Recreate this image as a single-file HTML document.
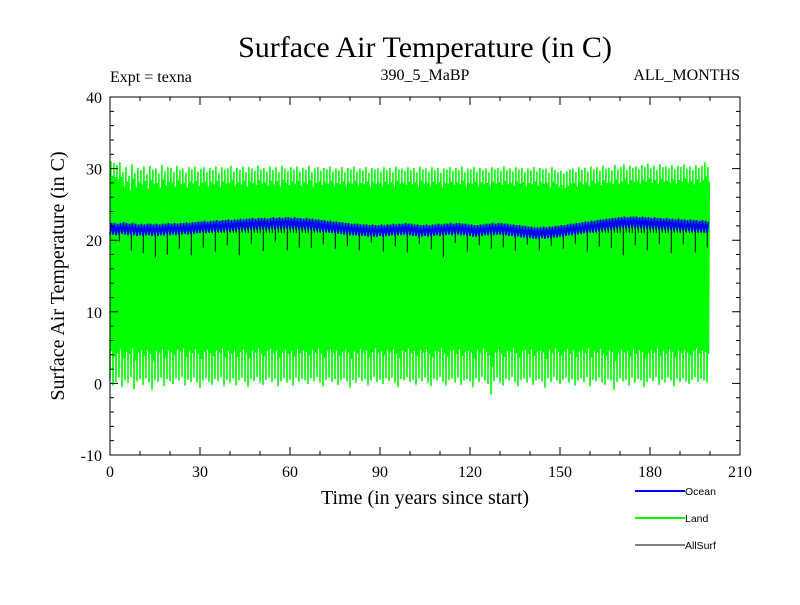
<!DOCTYPE html>
<html><head><meta charset="utf-8"><style>
body{margin:0;background:#fff}
svg text{font-family:"Liberation Serif",serif}
svg text.sans{font-family:"Liberation Sans",sans-serif}
</style></head><body>
<svg id="c" width="800" height="600" xmlns="http://www.w3.org/2000/svg">
<text x="425" y="57" font-size="30" text-anchor="middle">Surface Air Temperature (in C)</text>
<text x="110" y="82" font-size="16">Expt = texna</text>
<text x="425" y="80" font-size="16" text-anchor="middle">390_5_MaBP</text>
<text x="740" y="80" font-size="16" text-anchor="end">ALL_MONTHS</text>
<g id="plot"></g>
<g id="axes"></g>
<text x="425" y="504" font-size="20" text-anchor="middle">Time (in years since start)</text>
<text transform="translate(64,276) rotate(-90)" font-size="20" text-anchor="middle">Surface Air Temperature (in C)</text>
<g>
<g><line x1="635" y1="491" x2="685" y2="491" stroke="#0000ff" stroke-width="2"/><text class="sans" x="685" y="495" font-size="10.5">Ocean</text></g>
<g><line x1="635" y1="518" x2="685" y2="518" stroke="#00ff00" stroke-width="2"/><text class="sans" x="685" y="522" font-size="10.5">Land</text></g>
<g><line x1="635" y1="545" x2="685" y2="545" stroke="#000" stroke-width="1"/><text class="sans" x="685" y="549" font-size="10.5">AllSurf</text></g>
</g>
</svg>
<script>
const xTicks=[0,30,60,90,120,150,180,210];
const yTicks=[-10,0,10,20,30,40];
const landMax=[31,30.8,30.5,30.9,29.5,30.2,29,30.6,29.4,30.1,29.8,30.3,29.2,30.4,29.9,30,29.3,30.5,29.7,30.2,
30.1,29.5,30.4,29.8,30,29.4,30.2,29.9,30.3,29.6,30,30.2,29.5,30.1,29.8,30.3,29.4,30.2,29.9,30,
30.4,29.6,30.1,29.8,30.3,29.5,30.2,30,29.7,30.4,29.9,30.1,29.6,30.3,29.8,30.2,29.5,30.4,30,29.7,
30.2,29.9,30.3,29.6,30.1,29.8,30.4,29.5,30,30.2,29.7,30.1,29.9,30.3,29.6,30,29.8,30.2,29.5,30.1,
29.9,30.3,29.6,30,29.8,30.2,29.4,30.1,29.9,30,29.6,30.2,29.8,30.1,29.5,30.3,29.9,30,29.7,30.2,
29.8,30.1,29.5,30.3,29.9,30,29.6,30.2,29.8,30.1,29.4,30,29.9,30.2,29.7,30.1,29.8,30.3,29.5,30,
29.9,30.2,29.6,30.1,29.8,30,29.5,30.2,29.9,30.1,29.7,30.3,29.8,30,29.6,30.2,29.9,30.1,29.5,30,
29.8,30.2,29.6,30.1,29.9,30,29.4,30.2,29.8,29.5,29.7,29.3,29.6,29.9,30,29.5,30.2,29.8,30.1,29.6,
30.3,29.9,30.2,29.7,30.4,30,30.1,29.8,30.5,29.9,30.2,30.6,29.8,30.4,30.1,30.3,29.9,30.5,30.2,30.7,
30,30.4,29.8,30.6,30.2,30.3,30,30.5,29.9,30.4,30.2,30.6,30,30.3,29.8,30.5,30.1,30.4,30.9,30.2];
const landMin=[0.5,-0.3,0.2,0.8,-0.5,0.4,0.1,0.9,-0.8,0.3,0.6,-0.2,0.7,0.1,-0.9,0.5,0.2,0.8,-0.4,0.6,
0.3,-0.1,0.7,0.4,0.9,-0.3,0.5,0.2,0.8,0.1,-0.6,0.4,0.7,0.2,-0.2,0.6,0.3,0.9,-0.4,0.5,
0.1,0.7,-0.3,0.4,0.8,0.2,-0.5,0.6,0.3,0.9,0.1,-0.2,0.5,0.8,0.2,0.6,-0.4,0.3,0.7,0.1,
0.5,-0.3,0.8,0.2,0.6,0.4,-0.1,0.7,0.3,0.9,0.1,-0.4,0.5,0.8,0.2,0.6,-0.2,0.4,0.7,0.3,
-0.6,0.5,0.1,0.8,0.3,0.6,-0.3,0.4,0.9,0.2,0.5,-0.1,0.7,0.3,0.8,0.1,-0.5,0.6,0.4,0.9,
0.2,0.5,-0.2,0.7,0.3,0.8,0.1,-0.4,0.6,0.4,0.9,0.2,-0.3,0.5,0.7,0.1,0.8,-0.2,0.4,0.6,
0.3,-0.5,0.7,0.2,0.9,0.4,-0.1,-1.6,0.3,0.8,0.1,-0.3,0.6,0.4,0.9,0.2,-0.4,0.5,0.7,0.1,
0.8,-0.2,0.4,0.6,0.3,-0.6,0.7,0.2,0.9,0.4,-0.1,0.5,0.8,0.1,0.6,-0.3,0.4,0.7,0.2,0.9,
-0.4,0.5,0.3,0.8,0.1,-0.2,0.6,0.4,-0.9,0.2,0.7,0.3,0.5,-0.3,0.8,0.1,0.6,0.4,-0.5,0.2,
0.7,0.3,0.9,-0.2,0.5,0.1,0.8,0.4,-0.4,0.6,0.2,0.7,0.3,-0.1,0.5,0.9,0.2,0.6,0.4,0.1];
const oceanMid=[21.6,21.6,21.5,21.6,21.7,21.6,21.5,21.6,21.5,21.4,21.5,21.4,21.5,21.5,21.4,21.5,21.4,21.5,21.5,21.6,
21.5,21.6,21.5,21.6,21.6,21.7,21.6,21.7,21.7,21.8,21.8,21.9,21.8,21.9,21.9,22,21.9,22,22,22.1,
22,22.1,22.1,22.2,22.1,22.2,22.2,22.3,22.2,22.3,22.3,22.3,22.2,22.3,22.4,22.3,22.4,22.3,22.4,22.4,
22.3,22.4,22.3,22.3,22.2,22.3,22.2,22.2,22.1,22.1,22,22,21.9,21.9,21.8,21.8,21.7,21.7,21.6,21.6,
21.5,21.5,21.5,21.4,21.4,21.4,21.3,21.4,21.3,21.3,21.4,21.3,21.4,21.4,21.5,21.4,21.5,21.5,21.6,21.5,
21.5,21.4,21.4,21.3,21.3,21.4,21.3,21.4,21.4,21.5,21.4,21.5,21.5,21.6,21.5,21.6,21.6,21.5,21.5,21.4,
21.4,21.3,21.3,21.4,21.4,21.5,21.5,21.6,21.5,21.6,21.6,21.5,21.5,21.4,21.4,21.3,21.3,21.2,21.2,21.1,
21.1,21,21,21,21.1,21,21.1,21.1,21.2,21.2,21.3,21.3,21.4,21.5,21.5,21.6,21.6,21.7,21.8,21.8,
21.9,21.9,22,22.1,22.1,22.2,22.2,22.3,22.3,22.4,22.4,22.5,22.4,22.5,22.5,22.5,22.4,22.5,22.4,22.4,
22.3,22.4,22.3,22.3,22.2,22.3,22.2,22.2,22.1,22.2,22.1,22.1,22,22.1,22,22,21.9,22,21.9,21.8];
const allMin=[21,21,21,19.8,21,21,21,18.5,21,21,21,18.2,21,21,21,17.6,21,21,21,18,
21,21,21,18.8,21,21,21,17.9,21,21,21,19,21,21,21,18.4,21,21,21,19.3,21,21,21,17.9,21,21,21,19.5,21,21,
21,18.5,21,21,21,19.8,21,21,21,18.6,21,21,21,19,21,21,21,18.9,21,21,21,19.4,21,21,21,18.8,21,21,21,19.2,
21,21,21,18.6,21,21,21,19.6,21,21,21,18.4,21,21,21,19.1,21,21,21,18.3,21,21,21,19.5,21,21,21,18.7,21,21,
21,17.6,21,21,21,19.6,21,21,21,18.4,21,21,21,19.3,21,21,21,18.8,21,21,21,19,21,21,21,18.5,21,21,21,19.4,
21,21,21,18.6,21,21,21,19.2,21,21,21,18.8,21,21,21,19.5,21,21,21,18.4,21,21,21,19.1,21,21,21,18.9,21,21,
21,17.9,21,21,21,19.3,21,21,21,18.6,21,21,21,19.5,21,21,21,18.2,21,21,21,19.4,21,21,21,18.3,21,21,21,19];
const X0=110,X1=740,Y0=455,Y1=97;
const xs=v=>X0+(v-0)/(210-0)*(X1-X0);
const ys=v=>Y0-(v+10)/(50)*(Y0-Y1);
const NS="http://www.w3.org/2000/svg";
const plot=document.getElementById('plot'),axes=document.getElementById('axes');
function mk(tag,attrs,parent){const e=document.createElementNS(NS,tag);for(const k in attrs)e.setAttribute(k,attrs[k]);parent.appendChild(e);return e;}
// land
let d='';
for(let i=0;i<landMax.length;i++){
  const lo=landMin[i],hi=landMax[i];
  d+=(i?'L':'M')+xs(i).toFixed(2)+','+ys(lo).toFixed(2);
  d+='L'+xs(i+0.3).toFixed(2)+','+ys(hi).toFixed(2);
  d+='L'+xs(i+0.5).toFixed(2)+','+ys(lo+4).toFixed(2);
  d+='L'+xs(i+0.75).toFixed(2)+','+ys(hi-2).toFixed(2);
}
const land=mk('path',{d:d,fill:'none',stroke:'#00ff00','stroke-width':1.6},plot);


// allsurf
let da='';
for(let i=0;i<allMin.length;i++){
  da+='M'+xs(i+0.1).toFixed(2)+','+ys(oceanMid[i]).toFixed(2)+'L'+xs(i+0.1).toFixed(2)+','+ys(allMin[i]).toFixed(2);
}
const all=mk('path',{d:da,fill:'none',stroke:'#000','stroke-width':1},plot);


// ocean
let dof='';
for(let i=0;i<oceanMid.length;i++){
  dof+=(i?'L':'M')+xs(i).toFixed(2)+','+ys(oceanMid[i]-0.8).toFixed(2);
  dof+='L'+xs(i+0.5).toFixed(2)+','+ys(oceanMid[i]+0.8).toFixed(2);
}
const oc=mk('path',{d:dof,fill:'none',stroke:'#0000ff','stroke-width':1.8},plot);


// frame
const fr=mk('rect',{x:X0,y:Y1,width:X1-X0,height:Y0-Y1,fill:'none',stroke:'#000','stroke-width':1},axes);


let tk='';
for(let v=0;v<=210;v+=10){const L=(v%30===0)?8:4;const x=xs(v);tk+=`M${x},${Y0}v${-L}M${x},${Y1}v${L}`;}
for(let v=-10;v<=40;v+=2){const L=(v%10===0)?8:4;const y=ys(v);tk+=`M${X0},${y}h${L}M${X1},${y}h${-L}`;}
const tp=mk('path',{d:tk,stroke:'#000','stroke-width':1,fill:'none'},axes);


for(const v of xTicks){const t=mk('text',{x:xs(v),y:Y0+22,'font-size':16,'text-anchor':'middle'},axes);t.textContent=v;

}
for(const v of yTicks){const t=mk('text',{x:X0-8,y:ys(v)+6,'font-size':16,'text-anchor':'end'},axes);t.textContent=v;

}
</script>
</body></html>
